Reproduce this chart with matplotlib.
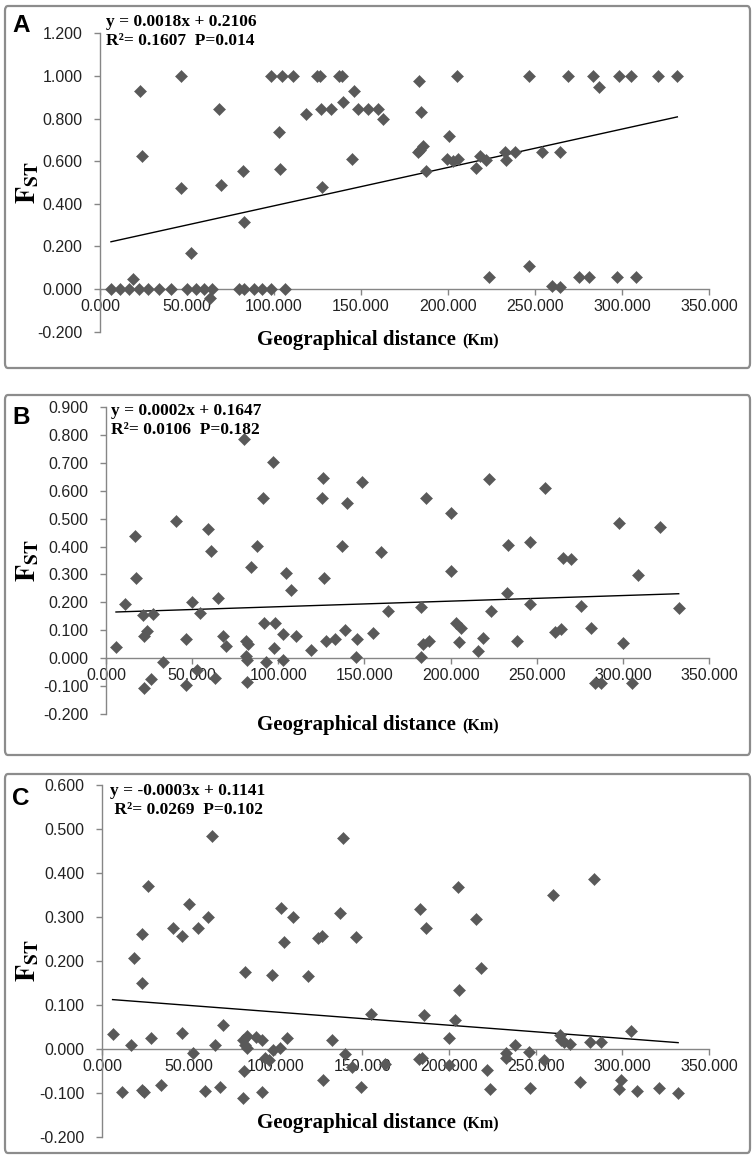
import numpy as np
import matplotlib.pyplot as plt
from matplotlib.patches import FancyBboxPatch

# panel A: geographical distance (km) vs FST
xa = [6.3, 11.6, 16.8, 18.7, 22.5, 27.3, 34.0, 40.7, 50.2, 55.0, 59.8, 64.5, 63.0,
      79.8, 82.7, 88.4, 93.2, 98.0, 106.5,
      23.1, 24.4, 46.4, 46.4, 52.5, 68.3, 69.3, 82.1, 82.7, 98.3, 104.6, 110.9,
      102.7, 103.7, 118.6, 124.7, 126.2, 127.0, 132.7, 127.5, 137.6, 139.0, 139.9,
      145.7, 144.7, 148.5, 154.3, 159.5, 162.8,
      183.3, 184.4, 205.2, 182.9, 183.8, 185.8, 187.1, 200.5, 199.5, 202.6, 205.8,
      215.9, 218.2, 222.0, 232.5, 233.1, 238.3, 246.5, 254.1, 264.6, 269.2, 283.1,
      286.9, 298.4, 305.1, 320.9, 331.8,
      223.4, 246.3, 259.6, 264.4, 275.5, 281.2, 297.4, 308.3]
ya = [0.0, 0.0, 0.0, 0.047, 0.0, 0.0, 0.0, 0.0, 0.0, 0.0, 0.0, 0.0, -0.042,
      0.0, 0.0, 0.0, 0.0, 0.0, 0.0,
      0.930, 0.622, 1.0, 0.473, 0.169, 0.845, 0.486, 0.556, 0.317, 1.0, 1.0, 1.0,
      0.739, 0.564, 0.820, 1.0, 1.0, 0.845, 0.845, 0.481, 1.0, 1.0, 0.880,
      0.927, 0.609, 0.845, 0.845, 0.845, 0.798,
      0.978, 0.833, 1.0, 0.642, 0.653, 0.673, 0.556, 0.719, 0.609, 0.603, 0.609,
      0.570, 0.622, 0.606, 0.645, 0.606, 0.642, 1.0, 0.642, 0.642, 1.0, 1.0,
      0.947, 1.0, 1.0, 1.0, 1.0,
      0.056, 0.109, 0.016, 0.009, 0.056, 0.056, 0.056, 0.056]

# panel B
xb = [5.8, 11.0, 16.8, 17.4, 21.7, 22.3, 23.6, 27.5, 22.1, 26.1, 33.3, 40.5, 46.3,
      46.3, 50.1, 52.7, 54.6, 59.4, 60.8, 63.3, 64.8, 68.1, 69.5, 80.3, 81.3, 82.7,
      81.1, 81.7, 81.7, 84.0, 87.9, 91.4, 91.8, 92.7, 96.8, 98.1, 97.8, 103.0, 102.6,
      104.3, 107.2, 110.3, 118.9, 125.2, 126.2, 126.6, 127.6, 133.0, 136.9, 138.8,
      140.1, 145.6, 145.2, 148.5, 154.9, 159.7,
      163.4, 182.7, 185.6, 182.7, 184.2, 187.2, 200.3, 200.2, 203.2, 205.9, 205.1,
      215.8, 218.7, 222.4, 223.6, 233.2, 232.7, 238.5, 246.2, 246.2, 254.9, 260.4,
      264.2, 265.2, 270.0, 275.8, 281.5, 284.1, 287.5, 298.0, 299.8, 305.3, 308.7,
      321.7, 332.4]
yb = [0.039, 0.193, 0.439, 0.288, 0.155, 0.081, 0.098, 0.157, -0.107, -0.074, -0.014,
      0.492, 0.068, -0.095, 0.203, -0.042, 0.161, 0.462, 0.384, -0.069, 0.215, 0.081,
      0.045, 0.784, 0.062, 0.050, 0.010, -0.006, -0.083, 0.328, 0.403, 0.572, 0.125,
      -0.012, 0.701, 0.125, 0.038, 0.086, -0.006, 0.306, 0.244, 0.081, 0.030, 0.574,
      0.646, 0.286, 0.063, 0.069, 0.403, 0.101, 0.554, 0.068, 0.006, 0.632, 0.092,
      0.381,
      0.170, 0.182, 0.572, 0.006, 0.050, 0.063, 0.521, 0.313, 0.125, 0.110, 0.060,
      0.027, 0.072, 0.640, 0.170, 0.405, 0.232, 0.063, 0.417, 0.194, 0.608, 0.093,
      0.104, 0.360, 0.355, 0.188, 0.107, -0.087, -0.087, 0.485, 0.054, -0.087, 0.298,
      0.471, 0.179]

# panel C
xc = [6.1, 11.7, 16.5, 18.6, 22.9, 23.2, 22.9, 24.2, 26.3, 28.0, 33.8, 40.7, 45.9,
      46.3, 50.1, 52.3, 55.1, 59.4, 61.3, 63.2, 65.1, 68.0, 69.5, 81.1, 82.4, 82.0,
      81.5, 82.4, 83.4, 83.8, 88.8, 92.0, 92.0, 93.9, 96.4, 97.8, 98.4, 102.6, 103.2,
      104.9, 106.8, 110.3, 118.9, 124.7, 126.6, 127.2, 132.4, 137.2, 139.1, 140.1,
      143.9, 149.3, 146.4, 155.0,
      163.1, 183.3, 187.1, 185.6, 182.9, 184.6, 200.2, 200.2, 203.5, 205.4, 206.0,
      215.9, 218.4, 222.1, 223.6, 232.7, 233.2, 238.4, 246.3, 246.7, 254.8, 260.1,
      263.9, 264.9, 266.3, 269.7, 275.9, 281.3, 283.8, 287.6, 298.2, 299.5, 304.9,
      308.7, 321.2, 332.2]
yc = [0.035, -0.098, 0.010, 0.207, 0.150, 0.261, -0.094, -0.098, 0.371, 0.026, -0.081,
      0.275, 0.257, 0.036, 0.329, -0.008, 0.275, -0.095, 0.299, 0.484, 0.010, -0.086,
      0.055, -0.111, 0.175, -0.051, 0.020, 0.010, 0.002, 0.029, 0.027, 0.020, -0.098,
      -0.020, -0.024, 0.169, -0.002, 0.002, 0.320, 0.243, 0.025, 0.299, 0.167, 0.252,
      0.256, -0.071, 0.021, 0.310, 0.479, -0.011, -0.042, -0.086, 0.254, 0.080,
      -0.033, 0.318, 0.275, 0.078, -0.023, -0.020, 0.025, -0.036, 0.065, 0.368, 0.135,
      0.296, 0.184, -0.047, -0.092, -0.009, -0.020, 0.008, -0.007, -0.089, -0.024,
      0.349, 0.031, 0.020, 0.015, 0.011, -0.075, 0.016, 0.386, 0.015, -0.091, -0.071,
      0.042, -0.096, -0.089, -0.101]

# trend lines as printed on the chart
slopes = [0.0018, 0.0002, -0.0003]
intercepts = [0.2106, 0.1647, 0.1141]
letters = ["A", "B", "C"]
eq_line1 = ["y = 0.0018x + 0.2106", "y = 0.0002x + 0.1647", "y = -0.0003x + 0.1141"]
eq_line2 = ["R\u00b2= 0.1607  P=0.014", "R\u00b2= 0.0106  P=0.182", " R\u00b2= 0.0269  P=0.102"]
ylims = [(-0.2, 1.2, 0.2), (-0.2, 0.9, 0.1), (-0.2, 0.6, 0.1)]

W, H = 756, 1160
plt.rcParams['mathtext.fontset'] = 'stix'
fig = plt.figure(figsize=(W / 100, H / 100), dpi=100)

def fx(x):
    return x / W

def fy(y):
    return 1 - y / H

# pixel layout of each panel: frame (top, bottom), axes (left, right, top, bottom), text baselines
frames = [(6, 368), (395, 755), (774, 1153)]
axboxes = [(100, 709, 33.3, 331.7), (106, 709, 406.7, 714.3), (102, 709, 785, 1137)]
letter_y = [32, 424, 805]
eq_pos = [(106, 26, 45), (111, 415, 434), (110, 795, 814)]
xlab_y = [345, 730, 1128]

grey = '#868686'
mcol = '#595959'
sets = [(xa, ya), (xb, yb), (xc, yc)]
xlabs = []

for i in range(3):
    top, bot = frames[i]
    fig.patches.append(FancyBboxPatch((fx(5), fy(bot)), fx(750) - fx(5), fy(top) - fy(bot),
                                      boxstyle="round,pad=0,rounding_size=0.004",
                                      transform=fig.transFigure, fc='none', ec='#8c8c8c', lw=1.6))
    l, r, t, b = axboxes[i]
    ax = fig.add_axes([fx(l), fy(b), fx(r) - fx(l), fy(t) - fy(b)])
    x, y = sets[i]
    ax.plot(x, y, 'D', color=mcol, ms=6.6, mew=0.4, zorder=4, clip_on=False)
    xs = np.array([min(x), max(x)])
    ax.plot(xs, slopes[i] * xs + intercepts[i], color='black', lw=1, zorder=3)

    lo, hi, st = ylims[i]
    ax.set_xlim(0, 350)
    ax.set_ylim(lo, hi)
    ax.set_xticks(np.arange(0, 351, 50))
    ax.set_yticks(np.arange(lo, hi + st / 2, st))
    ax.xaxis.set_major_formatter(plt.FormatStrFormatter('%.3f'))
    ax.yaxis.set_major_formatter(plt.FormatStrFormatter('%.3f'))
    for s in ['top', 'right']:
        ax.spines[s].set_visible(False)
    ax.spines['bottom'].set_position(('data', 0))
    for s in ['left', 'bottom']:
        ax.spines[s].set_color(grey)
        ax.spines[s].set_linewidth(1)
    ax.tick_params(direction='out', length=4, width=1, color=grey,
                   labelsize=11.5, labelcolor='#222222')
    ax.tick_params(axis='x', pad=3)
    ax.tick_params(axis='y', pad=8.5)
    for lab in ax.get_xticklabels() + ax.get_yticklabels():
        lab.set_family('Liberation Sans')
    ax.patch.set_alpha(0)

    fig.text(fx(12), fy(letter_y[i]), letters[i], family='Liberation Sans', weight='bold',
             fontsize=17.5, va='baseline')
    ex, e1, e2 = eq_pos[i]
    fig.text(fx(ex), fy(e1), eq_line1[i], family='Liberation Serif', weight='bold',
             fontsize=12.5, va='baseline')
    fig.text(fx(ex), fy(e2), eq_line2[i], family='Liberation Serif', weight='bold',
             fontsize=12.5, va='baseline')
    fig.text(fx(26), fy((t + b) / 2), r'$\mathbf{F}_{\mathbf{ST}}$', fontsize=20,
             rotation=90, ha='center', va='center')
    g = fig.text(fx(257), fy(xlab_y[i]), 'Geographical distance', family='Liberation Serif',
                 weight='bold', fontsize=15, va='baseline')
    xlabs.append(g)

# put "(Km)" right after the measured x label text
fig.canvas.draw()
for i, g in enumerate(xlabs):
    bb = g.get_window_extent()
    fig.text(fx(bb.x1 + 6), fy(xlab_y[i]), '(Km)', family='Liberation Serif', weight='bold',
             fontsize=11.5, va='baseline')

fig.savefig('out.png', dpi=100)
